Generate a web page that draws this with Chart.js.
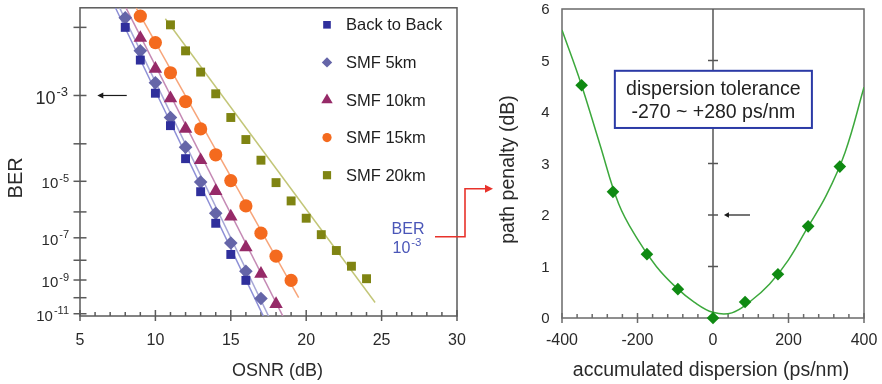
<!DOCTYPE html>
<html>
<head>
<meta charset="utf-8">
<script src="https://cdn.jsdelivr.net/npm/chart.js@4.4.1/dist/chart.umd.min.js"></script>
<style>
  html, body { margin: 0; padding: 0; background: #fff; }
  #wrap { position: relative; width: 882px; height: 384px; overflow: hidden; }
  #wrap canvas { position: absolute; top: 0; }
  #ber-chart { left: 0; }
  #disp-chart { left: 470px; }
</style>
</head>
<body>
<div id="wrap">
  <canvas id="ber-chart" width="882" height="384"></canvas>
  <canvas id="disp-chart" width="412" height="384"></canvas>
</div>
<script>
const FONT = '"Liberation Sans", Arial, Helvetica, sans-serif';

// ---- BER vs OSNR ----
const osnrMin = 5, osnrMax = 30;
const osnrLabels = [5, 10, 15, 20, 25, 30];
const berLabelExps = [-3, -5, -7, -9, -11];   // labelled decades
const berMinorExps = [-2, -4, -6, -8, -10];    // tick only
const berTopExp = -1.78, berBottomExp = -11.15;

const seriesNames = ['Back to Back', 'SMF 5km', 'SMF 10km', 'SMF 15km', 'SMF 20km'];

// measured points, BER given as log10(BER)
const osnrB2B = [8, 9, 10, 11, 12, 13, 14, 15, 16];
const berB2B  = [-2.00, -2.43, -2.96, -3.59, -4.37, -5.32, -6.42, -7.73, -9.02];
const osnr5km = [8, 9, 10, 11, 12, 13, 14, 15, 16, 17];
const ber5km  = [-1.89, -2.30, -2.78, -3.42, -4.08, -5.02, -6.05, -7.22, -8.54, -10.05];
const osnr10km = [9, 10, 11, 12, 13, 14, 15, 16, 17, 18];
const ber10km  = [-2.13, -2.56, -3.05, -3.66, -4.41, -5.30, -6.17, -7.41, -8.67, -10.39];
const osnr15km = [9, 10, 11, 12, 13, 14, 15, 16, 17, 18, 19];
const ber15km  = [-1.87, -2.19, -2.62, -3.11, -3.66, -4.27, -4.98, -5.79, -6.81, -7.81, -9.02];
const osnr20km = [11, 12, 13, 14, 15, 16, 17, 18, 19, 20, 21, 22, 23, 24];
const ber20km  = [-1.97, -2.30, -2.61, -2.97, -3.42, -3.90, -4.41, -5.04, -5.62, -6.23, -6.87, -7.55, -8.29, -8.93];

// straight fit lines (start, end)
const fitOsnr = [[7.35, 17.2], [7.63, 17.55], [8.05, 18.5], [8.72, 19.5], [10.66, 24.57]];
const fitBer  = [[-1.78, -11.25], [-1.78, -11.25], [-1.78, -11.25], [-1.78, -10.0], [-1.90, -10.29]];

// ---- path penalty vs dispersion ----
const dispMin = -400, dispMax = 400, dispMinorStep = 40;
const dispLabels = [-400, -200, 0, 200, 400];
const penaltyLabels = [0, 1, 2, 3, 4, 5, 6];
const dispMeasured    = [-348, -265, -175, -93, 0, 85, 172, 252, 336];
const penaltyMeasured = [4.52, 2.45, 1.24, 0.56, 0.0, 0.31, 0.85, 1.78, 2.94];
const dispFit    = [-400, -350, -300, -250, -200, -150, -100, -50, 0, 50, 100, 150, 200, 250, 300, 350, 400];
const penaltyFit = [5.59, 4.56, 3.38, 2.22, 1.53, 1.00, 0.61, 0.31, 0.11, 0.10, 0.33, 0.66, 1.13, 1.75, 2.38, 3.22, 4.48];

const markerStyles = ['rect', 'rectRot', 'triangle', 'circle', 'rect'];
const markerSizes  = [6.3, 6.8, 7.8, 6.6, 6.3];
const legendSizes  = [5.4, 5.2, 6.6, 4.6, 5.8];
const markerColors = ['#2f2f9c', '#6565a8', '#962a68', '#f46a1e', '#7f8412'];
const lineColors   = ['#8d8fd6', '#a7a7d6', '#c58ab5', '#f7a57a', '#c3c678'];

// BER axis is drawn on log10(-log10(BER))
const berPos = e => Math.log10(-e);
const pts = (xs, ys, f) => xs.map((v, i) => ({ x: v, y: f ? f(ys[i]) : ys[i] }));

function seg(ctx, x1, y1, x2, y2) {
  ctx.beginPath(); ctx.moveTo(x1, y1); ctx.lineTo(x2, y2); ctx.stroke();
}

function head(ctx, x, y, dir, len, half) {
  ctx.beginPath();
  ctx.moveTo(x, y);
  ctx.lineTo(x - dir * len, y - half);
  ctx.lineTo(x - dir * len, y + half);
  ctx.closePath();
  ctx.fill();
}

// "10" with a raised exponent; anchor 'right' or 'center'
function power(ctx, exp, x, yBase, size, supSize, raise, anchor) {
  const sup = String(exp);
  ctx.font = size + 'px ' + FONT;
  const wb = ctx.measureText('10').width;
  ctx.font = supSize + 'px ' + FONT;
  const ws = ctx.measureText(sup).width + 1;
  const x0 = anchor === 'center' ? x - (wb + ws) / 2 : x - wb - ws;
  ctx.textAlign = 'left';
  ctx.textBaseline = 'alphabetic';
  ctx.font = size + 'px ' + FONT;
  ctx.fillText('10', x0, yBase);
  ctx.font = supSize + 'px ' + FONT;
  ctx.fillText(sup, x0 + wb + 1, yBase - raise);
}

const berAxes = {
  id: 'berAxes',
  beforeDatasetsDraw(chart) {
    const { ctx, chartArea: a, scales: { x, y } } = chart;
    ctx.save();
    ctx.strokeStyle = '#5a5a5a';
    ctx.lineWidth = 1.5;
    ctx.strokeRect(a.left, a.top, a.right - a.left, a.bottom - a.top);

    for (let v = osnrMin; v <= osnrMax; v++) {
      const px = x.getPixelForValue(v);
      if (osnrLabels.includes(v)) seg(ctx, px, a.bottom - 6, px, a.bottom + 5);
      else seg(ctx, px, a.bottom - 4, px, a.bottom);
    }
    berLabelExps.concat(berMinorExps).forEach(e => {
      const py = y.getPixelForValue(berPos(e));
      seg(ctx, a.left - 6.5, py, a.left + 6.5, py);
    });

    ctx.fillStyle = '#2a2a2a';
    ctx.font = '16px ' + FONT;
    ctx.textAlign = 'center';
    ctx.textBaseline = 'alphabetic';
    osnrLabels.forEach(v => ctx.fillText(String(v), x.getPixelForValue(v), a.bottom + 29));

    berLabelExps.forEach(e => {
      const py = y.getPixelForValue(berPos(e));
      if (e === -3) power(ctx, e, a.left - 12, py + 8.5, 18, 13, 8, 'right');
      else power(ctx, e, a.left - 11, py + 7, 15, 11, 6.5, 'right');
    });

    ctx.font = '18px ' + FONT;
    ctx.textAlign = 'center';
    ctx.fillText('OSNR (dB)', (a.left + a.right) / 2 + 9, a.bottom + 60);

    ctx.save();
    ctx.translate(16, (a.top + a.bottom) / 2 + 16);
    ctx.rotate(-Math.PI / 2);
    ctx.font = '20px ' + FONT;
    ctx.textBaseline = 'middle';
    ctx.fillText('BER', 0, 0);
    ctx.restore();

    // arrow pointing at the BER axis at 1e-3
    const ay = y.getPixelForValue(berPos(-3));
    ctx.strokeStyle = '#1a1a1a';
    ctx.fillStyle = '#1a1a1a';
    ctx.lineWidth = 1.2;
    seg(ctx, x.getPixelForValue(8.1), ay, x.getPixelForValue(6.3), ay);
    head(ctx, x.getPixelForValue(6.15), ay, -1, 6, 3);
    ctx.restore();
  },
  afterDatasetsDraw(chart) {
    const { ctx, chartArea: a } = chart;
    ctx.save();
    // legend
    const lx = a.left + 247, ly = a.top + 17, step = 37.6;
    seriesNames.forEach((name, i) => {
      const yy = ly + i * step;
      ctx.fillStyle = markerColors[i];
      Chart.helpers.drawPoint(ctx, { pointStyle: markerStyles[i], radius: legendSizes[i], rotation: 0, borderWidth: 0 }, lx, yy);
      ctx.fillStyle = '#1e1e1e';
      ctx.font = '16.5px ' + FONT;
      ctx.textAlign = 'left';
      ctx.textBaseline = 'middle';
      ctx.fillText(name, lx + 19, yy + 1);
    });

    // BER 1e-3 hand-off to the penalty chart
    ctx.fillStyle = '#4a56b8';
    ctx.font = '16px ' + FONT;
    ctx.textAlign = 'center';
    ctx.textBaseline = 'alphabetic';
    ctx.fillText('BER', a.right - 49, a.top + 226);
    power(ctx, -3, a.right - 50, a.top + 245, 16, 11.5, 7, 'center');

    ctx.strokeStyle = '#e8322b';
    ctx.fillStyle = '#e8322b';
    ctx.lineWidth = 1.6;
    ctx.beginPath();
    ctx.moveTo(a.right - 22, a.top + 229);
    ctx.lineTo(a.right + 8, a.top + 229);
    ctx.lineTo(a.right + 8, a.top + 181);
    ctx.lineTo(a.right + 29, a.top + 181);
    ctx.stroke();
    head(ctx, a.right + 36, a.top + 181, 1, 8, 4);
    ctx.restore();
  }
};

const berSets = [
  [osnrB2B, berB2B], [osnr5km, ber5km], [osnr10km, ber10km], [osnr15km, ber15km], [osnr20km, ber20km]
];

const berDatasets = berSets.map(([xs, ys], i) => ({
  label: seriesNames[i],
  data: pts(xs, ys, berPos),
  pointStyle: markerStyles[i],
  pointRadius: markerSizes[i],
  backgroundColor: markerColors[i],
  borderColor: markerColors[i],
  borderWidth: 0,
  clip: false,
  order: i
})).concat(fitOsnr.map((xs, i) => ({
  label: seriesNames[i] + ' fit',
  data: pts(xs, fitBer[i], berPos),
  showLine: true,
  pointRadius: 0,
  borderColor: lineColors[i],
  borderWidth: 1.5,
  order: 10 + i
})));

new Chart(document.getElementById('ber-chart'), {
  type: 'scatter',
  data: { datasets: berDatasets },
  options: {
    responsive: false,
    animation: false,
    devicePixelRatio: 1,
    layout: { padding: { left: 80, top: 5, right: 425, bottom: 68 } },
    plugins: { legend: { display: false }, tooltip: { enabled: false } },
    scales: {
      x: { type: 'linear', display: false, min: osnrMin, max: osnrMax },
      y: { type: 'linear', display: false, reverse: true, min: berPos(berTopExp), max: berPos(berBottomExp) }
    }
  },
  plugins: [berAxes]
});

const dispAxes = {
  id: 'dispAxes',
  beforeDatasetsDraw(chart) {
    const { ctx, chartArea: a, scales: { x, y } } = chart;
    ctx.save();
    ctx.strokeStyle = '#6a6a6a';
    ctx.lineWidth = 1.5;
    ctx.strokeRect(a.left, a.top, a.right - a.left, a.bottom - a.top);

    for (let v = dispMin; v <= dispMax; v += dispMinorStep) {
      const px = x.getPixelForValue(v);
      if (dispLabels.includes(v)) seg(ctx, px, a.bottom - 5, px, a.bottom + 5);
      else seg(ctx, px, a.bottom - 4, px, a.bottom);
    }

    // zero-dispersion axis with its own ticks
    const x0 = x.getPixelForValue(0);
    ctx.strokeStyle = '#555';
    seg(ctx, x0, a.top, x0, a.bottom);
    penaltyLabels.slice(1, -1).forEach(v => {
      const py = y.getPixelForValue(v);
      seg(ctx, x0 - 5, py, x0 + 5, py);
    });

    ctx.fillStyle = '#2a2a2a';
    ctx.font = '15px ' + FONT;
    ctx.textAlign = 'right';
    ctx.textBaseline = 'alphabetic';
    penaltyLabels.forEach(v => ctx.fillText(String(v), a.left - 12.5, y.getPixelForValue(v) + 5));

    ctx.font = '16px ' + FONT;
    ctx.textAlign = 'center';
    dispLabels.forEach(v => ctx.fillText(String(v), x.getPixelForValue(v), a.bottom + 27));

    ctx.font = '19.5px ' + FONT;
    ctx.fillText('accumulated dispersion (ps/nm)', (a.left + a.right) / 2 - 2, a.bottom + 58);

    ctx.save();
    ctx.translate(39, (a.top + a.bottom) / 2 + 6);
    ctx.rotate(-Math.PI / 2);
    ctx.textBaseline = 'middle';
    ctx.fillText('path penalty (dB)', 0, 0);
    ctx.restore();

    // tolerance box
    const bx1 = x.getPixelForValue(-260), bx2 = x.getPixelForValue(262);
    const by1 = y.getPixelForValue(4.8), by2 = y.getPixelForValue(3.69);
    ctx.fillStyle = '#fff';
    ctx.fillRect(bx1, by1, bx2 - bx1, by2 - by1);
    ctx.strokeStyle = '#2b3aa6';
    ctx.lineWidth = 2;
    ctx.strokeRect(bx1, by1, bx2 - bx1, by2 - by1);
    ctx.fillStyle = '#222';
    ctx.font = '19.5px ' + FONT;
    ctx.textAlign = 'center';
    const bc = (bx1 + bx2) / 2;
    ctx.fillText('dispersion tolerance', bc, by1 + 24);
    ctx.fillText('-270 ~ +280 ps/nm', bc, by1 + 47.5);

    // arrow marking the 2 dB penalty level
    const ay = y.getPixelForValue(2);
    ctx.strokeStyle = '#1a1a1a';
    ctx.fillStyle = '#1a1a1a';
    ctx.lineWidth = 1.2;
    seg(ctx, x.getPixelForValue(98), ay, x.getPixelForValue(40), ay);
    head(ctx, x.getPixelForValue(29), ay, -1, 5, 2.8);
    ctx.restore();
  }
};

new Chart(document.getElementById('disp-chart'), {
  type: 'scatter',
  data: {
    datasets: [{
      label: 'measured',
      data: pts(dispMeasured, penaltyMeasured),
      pointStyle: 'rectRot',
      pointRadius: 6.3,
      backgroundColor: '#0f8a12',
      borderColor: '#0f8a12',
      borderWidth: 0,
      clip: false,
      order: 0
    }, {
      label: 'fit',
      data: pts(dispFit, penaltyFit),
      showLine: true,
      tension: 0.4,
      pointRadius: 0,
      borderColor: '#3ca83c',
      borderWidth: 1.5,
      order: 1
    }]
  },
  options: {
    responsive: false,
    animation: false,
    devicePixelRatio: 1,
    layout: { padding: { left: 92, top: 9, right: 18, bottom: 66 } },
    plugins: { legend: { display: false }, tooltip: { enabled: false } },
    scales: {
      x: { type: 'linear', display: false, min: dispMin, max: dispMax },
      y: { type: 'linear', display: false, min: 0, max: 6 }
    }
  },
  plugins: [dispAxes]
});
</script>
</body>
</html>
